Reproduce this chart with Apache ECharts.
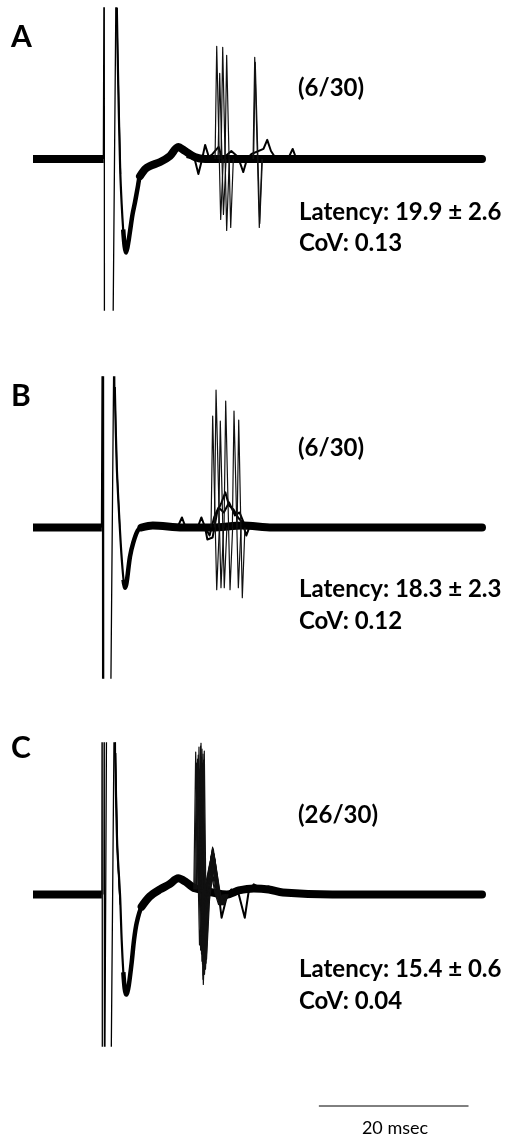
<!DOCTYPE html>
<html><head><meta charset="utf-8">
<script src="https://cdn.jsdelivr.net/npm/echarts@6/dist/echarts.min.js"></script>
<style>html,body{margin:0;padding:0;background:#fff}#c{width:513px;height:1138px}</style>
</head><body><div id="c"></div>
<script>
// ---------- DATA (time in ms, amplitude in arbitrary units; traces clipped at +/-1.5) ----------
const panelLabels = ['A', 'B', 'C'];
const ratioLabels = ['(6/30)', '(6/30)', '(26/30)'];
const latencyLabels = ['Latency: 19.9 \u00b1 2.6', 'Latency: 18.3 \u00b1 2.3', 'Latency: 15.4 \u00b1 0.6'];
const covLabels = ['CoV: 0.13', 'CoV: 0.12', 'CoV: 0.04'];
const scaleBarMs = [38.2, 58.2];
const scaleBarLabel = '20 msec';

// stimulus onset (end of the pre-stimulus baseline)
const stimA = 9.45, stimB = 9.2, stimC = 9.2;

// stimulus artifacts (thin single traces)
const artA = [
  [[9.40,0],[9.52,2.5],[9.55,-2.5],[10.60,-2.5],[11.15,2.2],[11.22,1.4],[11.45,0.6],[11.7,-0.15]]
];
const artB = [
  [[9.15,0],[9.28,2.5],[9.31,-2.5],[10.30,-2.5],[10.85,2.2],[10.93,1.4],[11.2,0.6],[11.6,0.0]],
  [[9.30,0],[9.42,2.5],[9.45,-2.5],[10.35,-2.5]]
];
const artC = [
  [[9.20,0],[9.24,2.5],[9.27,-2.5],[10.35,-2.5],[10.90,2.2],[10.98,1.4],[11.25,0.5],[11.6,-0.05]],
  [[9.48,0],[9.52,2.5],[9.55,-2.5],[9.80,-2.5],[9.88,2.5],[10.95,2.5],[11.02,1.4],[11.3,0.4],[11.65,-0.1]]
];

// evoked field potential (overlaid sweeps) after the artifact
const tA = [11.2, 11.4, 11.65, 11.85, 12.05, 12.25, 12.43, 12.62, 12.8, 12.96, 13.3, 13.63, 14.0, 14.3, 15.0, 15.6, 17.0, 18.3, 19.4, 20.3, 21.6, 23.0, 35, 60];
const vA = [1.5, 0.7, -0.1, -0.45, -0.7, -0.87, -0.93, -0.88, -0.8, -0.72, -0.55, -0.43, -0.28, -0.17, -0.1, -0.07, -0.03, 0.03, 0.12, 0.08, 0.02, 0, 0, 0];
const tB = [10.93, 11.2, 11.6, 11.8, 11.95, 12.1, 12.29, 12.45, 12.6, 12.96, 13.4, 14.0, 14.5, 16, 20, 24, 28, 32, 60];
const vB = [1.4, 0.6, 0.0, -0.25, -0.4, -0.52, -0.6, -0.57, -0.5, -0.29, -0.15, -0.03, 0.0, 0.02, 0.0, 0.0, 0.02, 0.0, 0];
const tC = [11.0, 11.25, 11.63, 11.85, 12.07, 12.25, 12.43, 12.6, 12.8, 13.19, 13.5, 13.86, 14.52, 15.6, 16.97, 18.2, 19.4, 20.5, 21.2, 21.7, 25.9, 27.5, 29.5, 31.5, 33.4, 40, 50, 60];
const vC = [1.4, 0.5, 0.0, -0.45, -0.77, -0.93, -0.99, -0.97, -0.9, -0.67, -0.45, -0.28, -0.12, -0.02, 0.05, 0.1, 0.16, 0.12, 0.08, 0.06, 0.0, 0.04, 0.06, 0.05, 0.02, 0, 0, 0];

// single-unit spikes: [peak time, peak, trough time, trough]
const spikesA = [[24.55,1.12,25.08,-0.60],[25.35,1.11,25.88,-0.71],[25.88,1.03,26.42,-0.68],[29.63,1.01,30.24,-0.68],[29.70,0.96,30.30,-0.64],[24.95,0.85,25.45,-0.55]];
const spikesB = [[24.01,1.11,24.55,-0.62],[24.46,1.37,25.12,-0.60],[25.03,1.06,25.56,-0.60],[25.75,1.26,26.33,-0.62],[26.86,1.16,27.44,-0.60],[27.49,1.07,27.97,-0.70]];
// C: [peak time, peak, trough time, trough, rebound time, rebound]
const spikesC = [
  [21.74,1.41,22.25,-0.50,23.60,0.30],
  [21.85,1.30,22.40,-0.55,23.70,0.33],
  [21.98,1.34,22.52,-0.59,23.80,0.38],
  [22.08,1.38,22.58,-0.66,23.85,0.40],
  [22.18,1.46,22.65,-0.69,23.90,0.42],
  [22.32,1.24,22.72,-0.84,23.95,0.44],
  [22.40,1.47,22.74,-0.80,24.00,0.46],
  [22.45,1.50,22.76,-0.89,24.00,0.47],
  [22.52,1.36,22.85,-0.75,24.05,0.43],
  [22.58,1.44,22.92,-0.79,24.10,0.45],
  [22.65,1.30,22.98,-0.70,24.15,0.41],
  [22.72,1.39,23.05,-0.74,24.20,0.40],
  [22.80,1.33,23.12,-0.68,24.25,0.37],
  [22.89,1.42,23.19,-0.64,24.30,0.35]
];

// individual sweeps' small deflections
const wigA = [[20.5,0.02],[21.6,0.0],[22.1,-0.15],[22.6,0.0],[23.0,0.14],[23.5,0.02],[24.0,0.05],[24.8,0.12],[25.3,0.0],[26.5,0.08],[27.4,0.02],[28.1,-0.13],[28.6,0.0],[29.2,0.05],[30.8,0.1],[31.3,0.19],[31.8,0.08],[32.5,0.0],[34.2,0.02],[34.7,0.1],[35.2,0.0],[36,0]];
const wigB = [[19.3,0],[19.9,0.1],[20.4,0.0],[22,0],[22.5,0.1],[23.0,0.0],[23.3,-0.12],[24.0,-0.1],[24.6,0.15],[25.2,0.25],[25.7,0.35],[26.2,0.22],[26.8,0.18],[27.4,0.1],[28.0,0.05],[28.5,-0.08],[29.0,0.02],[30,0]];
const wigB2 = [[23.0,0],[23.6,-0.08],[24.2,0.1],[24.8,0.2],[25.5,0.15],[26.2,0.25],[27,0.12],[27.6,0.15],[28.3,0.02],[29,0]];
const wigC = [[23.5,0.1],[24.5,0.2],[25.2,-0.23],[25.8,-0.05],[26.5,0.05],[27.5,0.0],[28.3,-0.23],[28.8,0.02],[29.5,0.1],[30.5,0.06],[31.5,0.08],[32.5,0.02]];

// ---------- BUILD ----------
const INK = '#000';
function pairs(t, v, lo, hi) {
  const out = [];
  for (let i = 0; i < t.length; i++) if (t[i] >= lo && t[i] <= hi) out.push([t[i], v[i]]);
  return out;
}
function line(gi, data, w, color, smooth, cap) {
  return { type: 'line', xAxisIndex: gi, yAxisIndex: gi, data: data, symbol: 'none', silent: true,
    animation: false, clip: true, smooth: smooth || false,
    lineStyle: { color: color || INK, width: w, join: 'round', cap: cap || 'butt' } };
}
function simpleSpike(s) { return [[s[0]-0.22, 0], [s[0], s[1]], [s[2], s[3]], [s[2]+0.35, 0]]; }
function burstSpike(s) {
  return [[s[0]-0.25, 0.05], [s[0], s[1]], [s[2], s[3]], [s[2]+0.4, -0.05], [s[4], s[5]], [s[4]+0.7, 0.02], [s[4]+1.2, -0.1], [s[4]+1.8, 0]];
}

const panels = [
  { stim: stimA, art: artA, t: tA, v: vA, spikes: spikesA.map(simpleSpike), wig: [wigA] },
  { stim: stimB, art: artB, t: tB, v: vB, spikes: spikesB.map(simpleSpike), wig: [wigB, wigB2] },
  { stim: stimC, art: artC, t: tC, v: vC, spikes: spikesC.map(burstSpike), wig: [wigC] }
];

const series = [];
panels.forEach((p, gi) => {
  series.push(line(gi, [[0, 0], [p.stim, 0]], 8));
  p.art.forEach(a => series.push(line(gi, a, 1.3)));
  series.push(line(gi, pairs(p.t, p.v, 0, 60), 2.2, INK, 0.3));
  series.push(line(gi, pairs(p.t, p.v, 12.0, 16), 4.5, INK, 0.3, 'butt'));
  series.push(line(gi, pairs(p.t, p.v, 14.3, 60), 8, INK, 0.3, 'round'));
  p.wig.forEach(w => series.push(line(gi, w, 2)));
  p.spikes.forEach(s => series.push(line(gi, s, 1.2, '#111')));
});
series.push(line(3, scaleBarMs.map(x => [x, 0]), 1));

const grids = [
  { left: 33, right: 31, top: 8, height: 302 },
  { left: 33, right: 31, top: 377, height: 301 },
  { left: 33, right: 31, top: 743, height: 303 },
  { left: 33, right: 31, top: 1096, height: 20 }
];
const xAxes = grids.map((g, i) => ({ gridIndex: i, type: 'value', min: 0, max: 60, show: false }));
const yAxes = grids.map((g, i) => ({ gridIndex: i, type: 'value', min: i < 3 ? -1.5 : -1, max: i < 3 ? 1.5 : 1, show: false }));

const letterY = [37, 396, 748];
const ratioY = [88, 448, 815];
const latY = [212, 589, 969];
const covY = [243, 621, 1001];
const graphics = [];
function txt(x, y, s, font, align) {
  graphics.push({ type: 'text', x: x, y: y, silent: true,
    style: { text: s, font: font, fill: '#000', align: align || 'left', verticalAlign: 'middle' } });
}
for (let i = 0; i < 3; i++) {
  txt(11, letterY[i], panelLabels[i], 'bold 30px Lato');
  txt(298, ratioY[i], ratioLabels[i], 'bold 24px Lato');
  txt(299, latY[i], latencyLabels[i], 'bold 24px Lato');
  txt(299, covY[i], covLabels[i], 'bold 24px Lato');
}
txt(395, 1128, scaleBarLabel, '18px Lato', 'center');

const chart = echarts.init(document.getElementById('c'), null, { renderer: 'canvas' });
chart.setOption({
  backgroundColor: '#fff',
  animation: false,
  grid: grids,
  xAxis: xAxes,
  yAxis: yAxes,
  series: series,
  graphic: graphics
});
</script></body></html>
